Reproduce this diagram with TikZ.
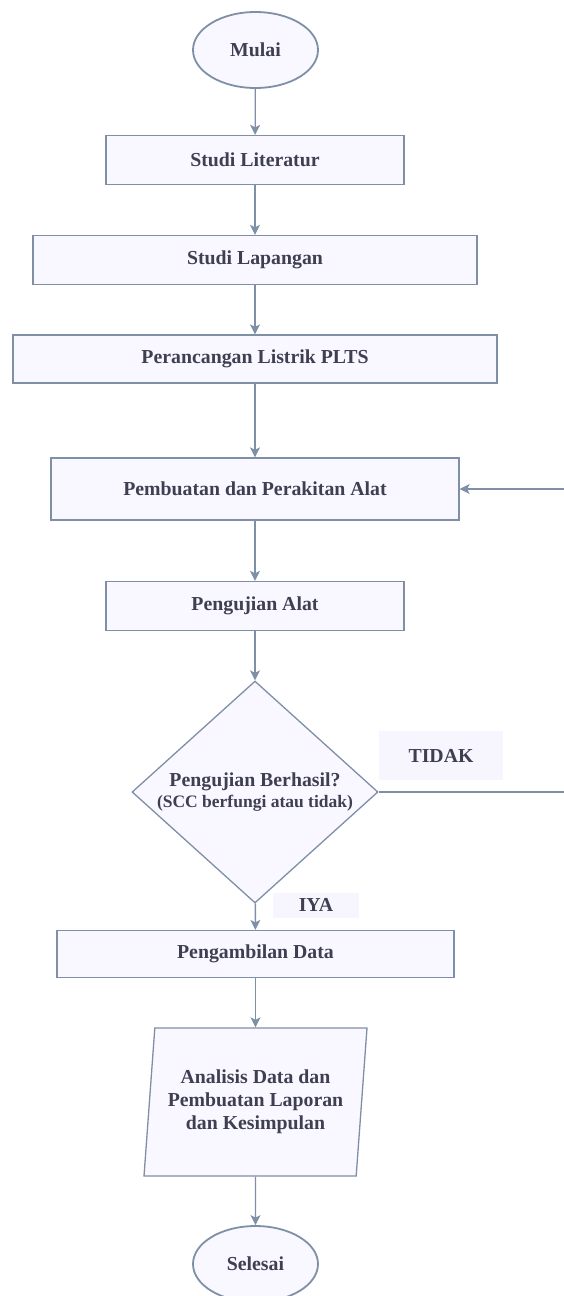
\documentclass[tikz,border=0pt]{standalone}
\usepackage{fontspec}
\setmainfont{Liberation Serif}
\usetikzlibrary{shapes.geometric, arrows.meta, positioning}

\definecolor{edgeblue}{HTML}{7F8FA6}
\definecolor{boxfill}{HTML}{F9F7FF}
\definecolor{labelfill}{HTML}{F7F5FE}
\definecolor{txtgray}{HTML}{3F3F52}

\tikzset{
    base/.style={draw=edgeblue, fill=boxfill, line width=1.3pt, text=txtgray,
        font=\fontsize{19.8}{23}\selectfont\bfseries, inner sep=0pt, align=center},
    process/.style={base, rectangle},
    terminal/.style={base, ellipse, line width=1.8pt, minimum width=125pt, minimum height=76pt},
    decision/.style={base, diamond, inner sep=-14pt, minimum width=246pt, minimum height=222pt},
    dataio/.style={base, trapezium, trapezium left angle=80.4, trapezium right angle=99.6,
        trapezium stretches body=true, minimum width=223pt, minimum height=148pt},
    answer/.style={fill=labelfill, text=txtgray, inner sep=0pt,
        font=\fontsize{19.8}{23}\selectfont\bfseries},
    flow/.style={draw=edgeblue, line width=1.3pt, -{Stealth[length=10pt, width=10pt, inset=2.5pt]}}
}

\begin{document}
\begin{tikzpicture}[x=1pt, y=-1pt]
    \useasboundingbox (0,0) rectangle (564,1296);

    % main column
    \node[terminal] (mulai) at (255.5,50) {Mulai};
    \node[process, minimum width=298pt, minimum height=49pt] (literatur) at (255,160) {Studi Literatur};
    \node[process, minimum width=444pt, minimum height=49pt] (lapangan) at (255,260) {Studi Lapangan};
    \node[process, minimum width=484pt, minimum height=48pt] (rancang) at (255,359) {Perancangan Listrik PLTS};
    \node[process, minimum width=408pt, minimum height=62pt] (rakit) at (255,489) {Pembuatan dan Perakitan Alat};
    \node[process, minimum width=298pt, minimum height=49pt] (uji) at (255,606) {Pengujian Alat};
    \node[decision] (cek) at (255,792) {Pengujian Berhasil?\\[-2pt]{\fontsize{17.5}{20}\selectfont (SCC berfungi atau tidak)}};
    \node[process, minimum width=397pt, minimum height=47pt] (ambil) at (255.5,954) {Pengambilan Data};
    \node[dataio] (analisis) at (255.5,1102) {Analisis Data dan\\Pembuatan Laporan\\dan Kesimpulan};
    \node[terminal] (selesai) at (255.5,1264) {Selesai};

    % answer labels
    \node[answer, minimum width=124pt, minimum height=49pt] (tidak) at (441,755.5) {TIDAK};
    \node[answer, minimum width=86pt, minimum height=25pt] (iya) at (316,905) {IYA};

    % connectors
    \draw[flow] (mulai) -- (literatur);
    \draw[flow] (literatur) -- (lapangan);
    \draw[flow] (lapangan) -- (rancang);
    \draw[flow] (rancang) -- (rakit);
    \draw[flow] (rakit) -- (uji);
    \draw[flow] (uji) -- (cek);
    \draw[flow] (cek) -- (ambil);
    \draw[flow] (ambil) -- (analisis);
    \draw[flow] (analisis) -- (selesai);

    % back loop when the test fails
    \coordinate (loopbot) at (576,792);
    \coordinate (looptop) at (576,489);
    \draw[flow] (cek.east) -- (loopbot) -- (looptop) -- (rakit.east);
\end{tikzpicture}
\end{document}
